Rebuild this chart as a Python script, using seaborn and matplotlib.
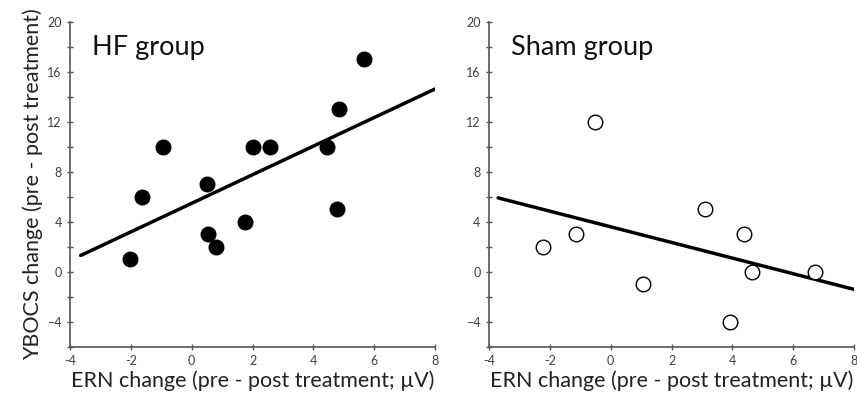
import numpy as np
import pandas as pd
import matplotlib
matplotlib.use('Agg')
import matplotlib.pyplot as plt
from matplotlib.ticker import MultipleLocator
import seaborn as sns

# HF group: ERN change vs YBOCS change
hf_ern = [-2.03, -1.64, -0.95, 0.49, 0.55, 0.79, 1.76, 2.03, 2.58, 4.44, 4.77, 4.84, 5.67]
hf_ybocs = [1, 6, 10, 7, 3, 2, 4, 10, 10, 10, 5, 13, 17]

# Sham group
sham_ern = [-2.24, -1.13, -0.52, 1.07, 3.10, 3.92, 4.39, 4.66, 6.71]
sham_ybocs = [2, 3, 12, -1, 5, -4, 3, 0, 0]

# extent of the drawn trend lines
hf_fit_range = [-3.65, 8.0]
sham_fit_range = [-3.7, 8.0]

x_label = 'ERN change (pre - post treatment; µV)'
y_label = 'YBOCS change (pre - post treatment)'

sns.set_style('ticks')
plt.rcParams['font.family'] = ['Lato', 'DejaVu Sans']

fig = plt.figure(figsize=(8.57, 3.97), dpi=100)
ax1 = fig.add_axes([0.0817, 0.126, 0.426, 0.819])
ax2 = fig.add_axes([0.5706, 0.126, 0.426, 0.819])

hf = pd.DataFrame({'ern': hf_ern, 'ybocs': hf_ybocs})
sham = pd.DataFrame({'ern': sham_ern, 'ybocs': sham_ybocs})

panels = [
    (ax1, hf, hf_fit_range, 'HF group', 'black'),
    (ax2, sham, sham_fit_range, 'Sham group', 'white'),
]

for ax, df, rng, title, face in panels:
    # least-squares trend line
    slope, icpt = np.polyfit(df['ern'], df['ybocs'], 1)
    fx = np.array(rng)
    sns.lineplot(x=fx, y=slope * fx + icpt, ax=ax, color='black', lw=2.5, zorder=2)
    sns.scatterplot(data=df, x='ern', y='ybocs', ax=ax, s=110, color=face,
                    edgecolor='black', linewidth=1.0, zorder=3, clip_on=False)

    ax.set_xlim(-4, 8)
    ax.set_ylim(-6, 20)
    ax.set_xticks(np.arange(-4, 9, 2))
    ax.set_xticklabels([str(v) for v in range(-4, 9, 2)])
    ax.yaxis.set_major_locator(MultipleLocator(4))
    ax.yaxis.set_minor_locator(MultipleLocator(2))
    ax.tick_params(axis='both', which='both', direction='inout', colors='#555555',
                   labelcolor='#404040', labelsize=9, width=1.0,
                   bottom=True, left=True)
    ax.tick_params(axis='both', which='major', length=5)
    ax.tick_params(axis='y', which='minor', length=5)
    sns.despine(ax=ax)
    for sp in ['left', 'bottom']:
        ax.spines[sp].set_color('#555555')
        ax.spines[sp].set_linewidth(1.2)
    ax.set_xlabel(x_label, fontsize=15.5, labelpad=2, color='#222222')
    ax.set_ylabel('')
    ax.text(0.06, 0.92, title, transform=ax.transAxes, fontsize=19.5,
            va='center', ha='left', color='#111111')

ax1.set_ylabel(y_label, fontsize=15.5, labelpad=3, color='#222222')

fig.savefig('out.png', dpi=100)
